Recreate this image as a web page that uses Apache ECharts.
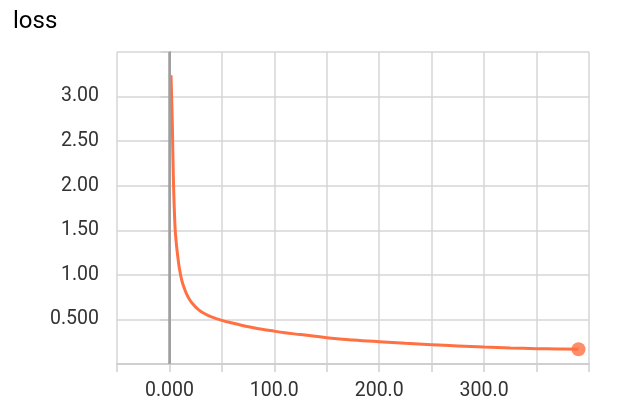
<!DOCTYPE html>
<html>
<head>
<meta charset="utf-8">
<script src="https://cdn.jsdelivr.net/npm/echarts@6/dist/echarts.min.js"></script>
<style>html,body{margin:0;padding:0;background:#fff}#c{width:624px;height:411px}</style>
</head>
<body>
<div id="c"></div>
<script>
var title = 'loss';
var steps = [1.5, 2.8, 3.7, 5.3, 6.5, 8, 9.5, 11.7, 14, 16.4, 19.6, 23, 26, 30, 35, 40, 50, 60, 74, 85, 96, 110, 125, 150, 175, 200, 225, 250, 275, 300, 325, 350, 370, 390];
var lossValues = [3.24, 2.66, 2.10, 1.54, 1.36, 1.2, 1.07, 0.94, 0.855, 0.785, 0.715, 0.665, 0.627, 0.59, 0.555, 0.528, 0.49, 0.46, 0.42, 0.395, 0.375, 0.35, 0.33, 0.295, 0.27, 0.25, 0.232, 0.217, 0.203, 0.19, 0.18, 0.172, 0.168, 0.165];
var xTickLabels = ['0.000', '100.0', '200.0', '300.0'];
var xTickValues = [0, 100, 200, 300];
var yTickLabels = ['0.500', '1.00', '1.50', '2.00', '2.50', '3.00'];
var yTickValues = [0.5, 1, 1.5, 2, 2.5, 3];

var lineData = steps.map(function (s, i) { return [s, lossValues[i]]; });
var last = lineData[lineData.length - 1];
var font = 'Roboto, "Liberation Sans", Arial, sans-serif';

var chart = echarts.init(document.getElementById('c'));
chart.setOption({
  animation: false,
  title: { text: title, left: 13, top: 10, padding: 0, textStyle: { fontSize: 24, fontWeight: 'normal', color: '#000', fontFamily: font } },
  grid: { left: 117, right: 35, top: 52, bottom: 47 },
  xAxis: {
    type: 'value', min: -50, max: 400, interval: 50,
    axisLine: { show: true, lineStyle: { color: '#cfcfcf', width: 2 } },
    axisTick: { show: true, length: 8, lineStyle: { color: '#cfcfcf', width: 1.5 } },
    splitLine: { show: true, lineStyle: { color: '#d6d6d6', width: 1.5 } },
    axisLabel: {
      margin: 17, fontSize: 19.5, color: '#333', fontFamily: font,
      formatter: function (v) { var i = xTickValues.indexOf(v); return i >= 0 ? xTickLabels[i] : ''; }
    }
  },
  yAxis: {
    type: 'value', min: 0, max: 3.5, interval: 0.5,
    axisLine: { show: true, lineStyle: { color: '#a8a8a8', width: 2 } },
    axisTick: { show: true, length: 9, lineStyle: { color: '#d0d0d0', width: 1.5 } },
    splitLine: { show: true, lineStyle: { color: '#d6d6d6', width: 1.5 } },
    axisLabel: {
      margin: 18, fontSize: 19.5, color: '#333', fontFamily: font,
      formatter: function (v) { for (var i = 0; i < yTickValues.length; i++) { if (Math.abs(yTickValues[i] - v) < 1e-9) return yTickLabels[i]; } return ''; }
    }
  },
  series: [
    {
      type: 'line', data: lineData, smooth: 0.4, showSymbol: false,
      lineStyle: { color: '#ff7043', width: 3 },
      itemStyle: { color: '#ff7043' },
      z: 3,
      markLine: {
        silent: true, symbol: 'none', label: { show: false },
        lineStyle: { color: '#9e9e9e', width: 2.5, type: 'solid' },
        data: [{ xAxis: 0 }]
      }
    },
    {
      type: 'scatter', data: [last], symbolSize: 14,
      itemStyle: { color: '#ff7043' }, z: 4
    }
  ]
});
</script>
</body>
</html>
